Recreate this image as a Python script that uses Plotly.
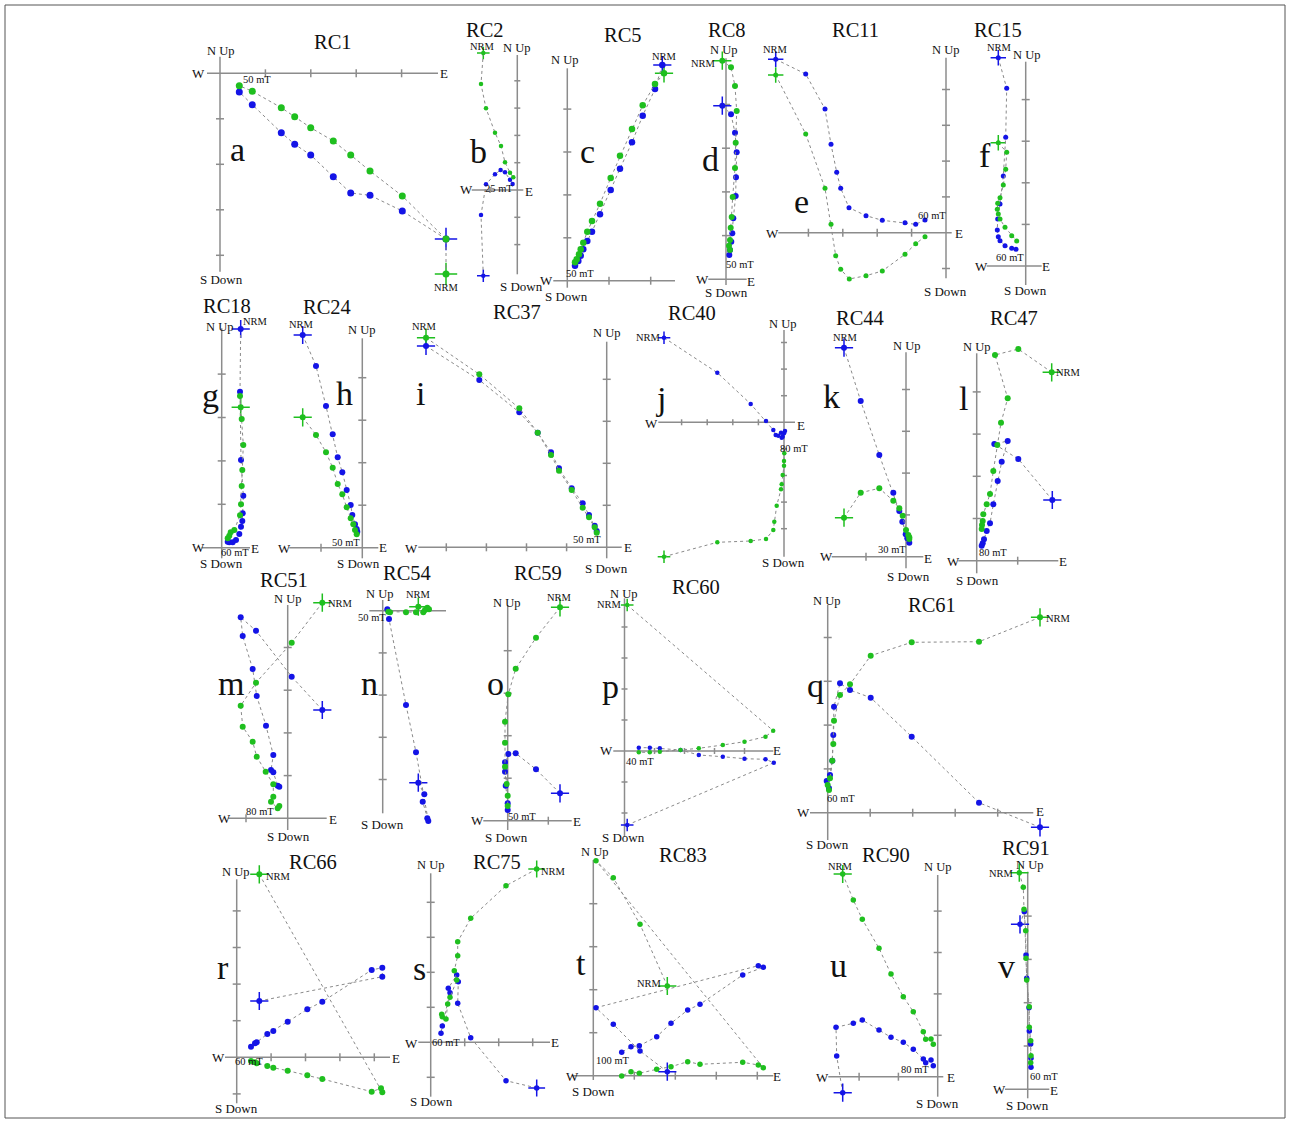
import plotly.graph_objects as go

W, H = 1290, 1122
FONT = "Liberation Serif"
GREEN = "#1fbf1f"
BLUE = "#1414e6"
AXIS = "#8c8c8c"
LINK = "#8a8a8a"

# ---------------- data (relative magnetisation components, arbitrary units) ----------------
# (East component, North-or-Up component); first point = NRM
RC1_HORIZ = [(226,-200.7),(226,-165.7),(182.3,-122.7),(150,-97.7),(130.7,-81.7),(113.3,-67.7),(90.7,-54.4),(74.7,-43.4),(61.3,-34.4),(32.3,-18),(19.3,-12.4)]
RC1_VERT = [(226,-165.7),(182.3,-137.7),(150,-122),(130.7,-119.7),(113.3,-103.4),(90.7,-81.7),(74.7,-71),(61.3,-59.4),(32.3,-31.4),(19.3,-18.7)]
RC2_HORIZ = [(-34,137),(-36.3,106),(-31.3,81.7),(-22.3,57.3),(-16.3,44),(-12.3,27.7),(-7.3,17.3),(-4,12.7)]
RC2_VERT = [(-34,-85.7),(-36.3,-25),(-31.3,5.7),(-22.3,15.7),(-16.7,20),(-12.3,17.7),(-7.3,10.3),(-4.7,6)]
RC5_HORIZ = [(96.7,207.4),(87.7,196.7),(75.4,175.4),(64.7,151.7),(52.7,125),(43.4,102.7),(32.7,77),(24.7,59.7),(20,49),(16,38),(13.4,31.4),(11.7,26.4),(9.4,21.4),(7.7,18.4)]
RC5_VERT = [(95,215.7),(87.7,191.7),(75.4,165),(64.7,138.4),(52.7,112),(43.4,90.7),(32.7,66.4),(24.7,49),(20,39.7),(16,31.4),(13.4,25),(11,19.7),(7.7,15)]
RC8_HORIZ = [(-3.7,218.6),(5,212),(9,193.3),(10.7,168.3),(9.7,136.6),(9,111.3),(6.7,82.3),(5.7,62.3),(4.7,51.6),(4,39.3),(3,33.6),(4,29.3)]
RC8_VERT = [(-3.7,173.6),(5,165),(9,146.6),(10.7,127),(10,102),(9.7,83.3),(7.3,61),(6.3,46),(5.3,37.6),(4,29.3),(3.3,24.3)]
RC11_HORIZ = [(-170.3,157.7),(-140.3,98.7),(-121,44.4),(-115,8.4),(-110.3,-23),(-105.3,-36.6),(-96.7,-46.3),(-80,-43),(-63.7,-38.3),(-41,-21.6),(-30.3,-11),(-21,-4)]
RC11_VERT = [(-170.3,173.4),(-140.3,158.7),(-121,123.7),(-115,88.4),(-109.3,60.4),(-105.3,44.4),(-97,25),(-80,17),(-63.7,12.4),(-41,10),(-30.3,8.4),(-21,12.7)]
RC15_HORIZ = [(-27.4,123.3),(-19,113.7),(-20,96.7),(-22.4,81),(-25.7,68.3),(-28,62.7),(-28.4,56.7),(-27.4,52),(-25.7,47),(-20.7,38.7),(-14,30.3),(-9,25)]
RC15_VERT = [(-27.4,208.3),(-19,177.7),(-20,128.7),(-22.4,90),(-25.7,62),(-28,47),(-28.4,36),(-27.4,29.3),(-25.7,25.3),(-20.7,20.3),(-14,17.7),(-9.7,16.7)]
RC18_HORIZ = [(19,140.4),(18.3,151.7),(20,128.7),(21.6,102.7),(20.6,77.7),(20,61.7),(19.3,43.4),(18.3,32.4),(12.6,17.7),(9,15.4),(7.6,12),(6,9.4)]
RC18_VERT = [(19,218.7),(18.3,156),(19.3,87.7),(21.6,52),(21,34.4),(20.6,26.7),(19.3,21),(17.6,13.7),(14.3,7.7),(11,5.4),(7.6,5.4),(6,6)]
RC24_HORIZ = [(-59.6,130.4),(-46.3,112.7),(-36.3,95.4),(-29.6,80),(-24.6,63.7),(-20,53.4),(-15.6,40.4),(-11.6,29.4),(-9,23.4),(-7.3,17.7),(-5.6,13.4)]
RC24_VERT = [(-59.6,212.7),(-46.3,181.7),(-36.3,141.7),(-29.6,113.4),(-24.6,90.4),(-20,75.4),(-15.6,57.7),(-11.6,42.7),(-10,32.7),(-7.3,23.4),(-5.6,18.7),(-5,16)]
RC37_HORIZ = [(-180.7,209.6),(-127.4,173),(-87.4,139),(-69,114.6),(-55.7,92.3),(-47.7,76.6),(-35,57.3),(-24,39.6),(-17.7,30),(-12,20),(-10,14.6)]
RC37_VERT = [(-180.7,201.3),(-127.4,167.3),(-87.4,135),(-69,114.6),(-55.7,95),(-47.7,79),(-35,59),(-24,44),(-17.7,32.3),(-12,21.6),(-10,16.3)]
RC40_HORIZ = [(-120,-134.4),(-66.7,-120),(-33.3,-118.7),(-18,-116.7),(-10.7,-107.7),(-9.7,-99.4),(-7.3,-83.4),(-3,-67),(-2.3,-62),(-1.3,-52.7),(0,-43.4),(0,-38.7),(0.3,-31)]
RC40_VERT = [(-120,84.6),(-66.7,49.6),(-33.3,18.3),(-18,1.3),(-10.7,-7.7),(-8.3,-12.7),(-5.7,-13.4),(-3,-10.4),(-1.3,-14.4),(0,-11),(1,-8.7),(-2.3,-15.4)]
RC44_HORIZ = [(-62,39),(-45.3,64),(-26.7,68.4),(-12.7,56),(-6.7,48.4),(-3.3,41),(0,26.7),(2.3,21.7),(3.3,19.4),(3.3,17.7)]
RC44_VERT = [(-62,209),(-45.3,155.7),(-26.7,101.7),(-12.7,64),(-6.7,45.7),(-3.7,35),(-0.3,22.4),(1.3,18.4),(3.3,14)]
RC47_HORIZ = [(75,188.4),(41.6,211.7),(18.3,205.7),(31,162.4),(24.3,138),(20.6,115.7),(16.6,89.7),(13.3,66.7),(10,56.4),(6.6,46.4),(6,39.7),(5.3,35.7),(5,31.7)]
RC47_VERT = [(75.6,60.7),(41.6,101.7),(17.6,116.7),(31,119.7),(25,99),(21,79.7),(16.6,56.4),(13.3,37.4),(10,29.7),(7.3,21.4),(6,17.4),(5,15)]
RC51_HORIZ = [(34.6,215.6),(4,175.6),(-31.7,135.6),(-47,112.6),(-45,91.6),(-35,76.6),(-31,61.6),(-22,46.6),(-14.4,34),(-14.4,21.6),(-16.7,16.6),(-10,10),(-8.4,12.3)]
RC51_VERT = [(34.6,108.3),(4,141.6),(-31.7,187.6),(-47,201),(-45,182.3),(-35,149.3),(-31,122.3),(-21.7,92.6),(-14.4,63.3),(-16.7,48.3),(-14.4,46),(-10,32.6),(-8.4,31.6)]
RC54_HORIZ = [(35.6,4),(44.6,3),(46.3,1.4),(42.3,0.7),(40.6,-1.6),(33.3,-1.6),(23.3,-1.6),(7.3,-1.6),(5.6,-1)]
RC54_VERT = [(35.6,-172),(41.6,-183.6),(40,-191),(44.6,-207.6),(45.6,-210.3),(33.3,-141.6),(23.3,-94.3),(6.3,-8.3),(4.6,1.4)]
RC59_HORIZ = [(52.3,213.4),(28.3,183),(8,152),(0.6,126.4),(-2.7,99),(-2.7,78),(-2.7,54),(-1,36.7),(0,25),(0,14.7)]
RC59_VERT = [(52.3,27.4),(28.3,51.4),(8,67.4),(0.6,66.7),(-2.7,58.4),(-2.7,49),(-2,35),(0,17.4),(0,10.7)]
RC60_HORIZ = [(2.7,146),(148.7,20.3),(141,14.3),(120,9.3),(98.3,6),(74.3,2.7),(56,1),(35.3,-0.7),(25.3,-1.3),(14.3,-1.3)]
RC60_VERT = [(2.7,-74),(149.3,-11.7),(141,-8.3),(120,-7.7),(98.3,-5.7),(74.3,-4),(56,1),(35.3,2.7),(25.3,3.3),(14.3,3.3)]
RC61_HORIZ = [(212.3,195.4),(151.3,171),(84,170.4),(43,157),(22.3,128.4),(12.3,117.7),(6.3,92),(5.6,68.7),(4.6,52),(2.3,34.4),(0,27.7),(1.3,22.7)]
RC61_VERT = [(212.3,-14.6),(151.3,10),(84,76),(43,115),(22.3,122.7),(12.3,129.4),(6.3,106),(5.6,77.7),(4.6,52),(2.3,37.7),(-1,31.7),(1.3,24.4)]
RC66_HORIZ = [(22.6,183),(145.6,-35),(144.3,-31),(135,-34.4),(85.6,-21.7),(70.6,-18),(51,-13.4),(36.6,-10.4),(30.6,-8.7),(20,-6),(18.3,-5),(14.3,-3.7)]
RC66_VERT = [(22.6,56.3),(145.6,80.6),(145.6,89.6),(135,87.3),(85.6,55.6),(70.6,48),(51,35.6),(36.6,26.3),(30.6,23.3),(20,15),(18.3,14),(14.3,10.6)]
RC75_HORIZ = [(106,173.3),(75.3,156.6),(40,124),(27,100.6),(27,86.6),(23.6,71.6),(26,62.3),(19.3,45),(17,38.3),(15.3,23.3),(11.6,25.6),(11,28)]
RC75_VERT = [(106,-45.7),(75.3,-38.4),(40,4.6),(27,39),(27.6,60.6),(26,67.3),(17.6,54),(19.3,49.6),(11.6,16.3),(10.3,9)]
RC83_HORIZ = [(74,89.7),(46.7,151.4),(20,198),(2.7,215),(170,8),(165,10.7),(149.4,13.4),(106.7,11.4),(94.4,14),(77.7,9),(63.4,6.4),(46,2.4),(37.7,4),(28.4,-0.3)]
RC83_VERT = [(74,4),(46.7,24.7),(20,51.4),(2.7,68),(165,110),(170,108.4),(149.4,100.7),(106.7,71.4),(94.4,65.7),(77.7,52.4),(63.4,39),(46,30),(37.7,29),(28.4,23.4)]
RC90_HORIZ = [(-95,202.7),(-84.4,176.7),(-75.4,157.4),(-58.7,128.4),(-46.7,102.7),(-34.4,80),(-24.4,65),(-14.4,45),(-12,37.4),(-6.7,37.7),(-4.4,32.4)]
RC90_VERT = [(-95,-16),(-101,20.7),(-101.7,49.4),(-84.4,53.4),(-75.4,56.7),(-58.7,46.7),(-46.7,39.4),(-34.4,34.4),(-24.4,27.4),(-14.4,17.7),(-12,14),(-6.7,16.7),(-4.4,11)]
RC91_HORIZ = [(-8.4,216.6),(-4.4,202),(-3.7,180),(-2,158.6),(-1.7,131),(-1,109.3),(1.6,82.6),(1.6,62),(3,48.6),(3.3,33.6),(3,26.6)]
RC91_VERT = [(-7.7,165),(-3.4,177.6),(-1.7,134.3),(-1,111),(1.3,81.6),(1.6,58.3),(3,45.3),(3.3,31),(3.3,22)]

SAMPLES = ["RC1","RC2","RC5","RC8","RC11","RC15","RC18","RC24","RC37","RC40","RC44",
           "RC47","RC51","RC54","RC59","RC60","RC61","RC66","RC75","RC83","RC90","RC91"]
LETTERS = list("abcdefghijklmnopqrstuv")
STEP_LABELS = ["50 mT","25 mT","50 mT","50 mT","60 mT","60 mT","60 mT","50 mT","50 mT","80 mT","30 mT",
               "80 mT","80 mT","50 mT","50 mT","40 mT","60 mT","60 mT","60 mT","100 mT","80 mT","60 mT"]
SERIES = {s: (globals()[s + "_HORIZ"], globals()[s + "_VERT"]) for s in SAMPLES}

# ---------------- layout geometry (page pixels) ----------------
# o: origin; hx/vy: axis extents; xs/ys: tick step; xi/yi: tick indices;
# label positions: w,e,n,s,t(title),l(letter),r(NRM),m(step label); ms marker size; cs cross size
GEOM = {
 "RC1": dict(o=(220,73.3), hx=(-13,218), vy=(-198.4,16.6), xs=45.4, xi=[1,2,3,4], ys=45.5, yi=[-1,-2,-3,-4],
             w=(198,73.3), e=(444,73.3), n=(220.7,50.7), s=(221,279), t=(333,42), l=(237,150), r=(446,287), m=(256.7,80), ms=7, cs=16, tl=4),
 "RC2": dict(o=(517.3,190), hx=(-45.6,6), vy=(-84.3,135), xs=27.3, xi=[-1], ys=27.3, yi=[4,3,2,1,-1,-2],
             w=(466,190), e=(529,191.7), n=(516.7,48.3), s=(521.7,286), t=(485,30), l=(478.3,151.7), r=(482.7,46.7), m=(499,188.3), ms=4.5, cs=9, tl=3),
 "RC5": dict(o=(567.3,280.7), hx=(-14,107.7), vy=(-7,212.4), xs=41.7, xi=[1,2], ys=42.9, yi=[1,2,3,4],
             w=(546,280.7), e=None, n=(564,60), s=(566.7,296), t=(622.7,35), l=(587.3,151.7), r=(664,56), m=(580,273.3), ms=6.5, cs=13, tl=4),
 "RC8": dict(o=(726,279.3), hx=(-17.7,20.7), vy=(-5.7,221), xs=40, xi=[], ys=43.7, yi=[1,2,3,4],
             w=(702.3,280), e=(751,281), n=(723.3,50), s=(726.7,292.3), t=(727.3,30), l=(710.7,160), r=(703.3,63.3), m=(739.7,264.3), ms=6, cs=13, tl=4),
 "RC11": dict(o=(946,232.7), hx=(-167.7,5.7), vy=(-45.6,175), xs=34.4, xi=[-1,-2,-3,-4], ys=35.8, yi=[1,2,3,4,-1],
             w=(772.3,233.3), e=(959.3,233.3), n=(945,50), s=(946,291.7), t=(855.7,30), l=(801.7,201.7), r=(775,50), m=(931.7,215), ms=5, cs=11, tl=4),
 "RC15": dict(o=(1025.7,266), hx=(-39,16), vy=(-19,204.3), xs=40, xi=[], ys=41.6, yi=[1,2,3,4],
             w=(981.7,266.7), e=(1046,266.7), n=(1026,55), s=(1025,290), t=(998.3,30), l=(985,155), r=(999.3,47.3), m=(1010.3,257.7), ms=5, cs=11, tl=4),
 "RC18": dict(o=(221.7,547.7), hx=(-20,28.3), vy=(-10.6,219.4), xs=40, xi=[], ys=43.4, yi=[1,2,3,4],
             w=(198.3,547.7), e=(255,548.3), n=(219.7,327.3), s=(221.7,563.3), t=(227.3,306.3), l=(210,395), r=(255,321.7), m=(235,552.3), ms=6, cs=13, tl=4),
 "RC24": dict(o=(362.3,547.7), hx=(-73,16), vy=(-10.6,209.4), xs=41.3, xi=[-1], ys=42.5, yi=[1,2,3,4],
             w=(284.7,548.3), e=(383.3,547.7), n=(361.7,330), s=(358.3,563.3), t=(326.7,307.3), l=(345,393.3), r=(301,324.3), m=(345.7,542.3), ms=6, cs=13, tl=4),
 "RC37": dict(o=(606.7,547.3), hx=(-188.4,15), vy=(-11,205.6), xs=40.1, xi=[-1,-2,-3,-4], ys=42, yi=[1,2,3,4],
             w=(411.7,548.3), e=(627.7,547.3), n=(606.7,333.3), s=(606.7,568.3), t=(516.7,311.7), l=(420.7,393.3), r=(425,326.7), m=(587.3,539.3), ms=6, cs=13, tl=4),
 "RC40": dict(o=(784,422.3), hx=(-125.7,11), vy=(-134.4,92.3), xs=25.6, xi=[-1,-2,-3,-4], ys=26.6, yi=[1,2,3,-1,-2,-3,-4],
             w=(651.7,423.3), e=(800.7,425), n=(782.7,324.3), s=(783.3,562.7), t=(691.7,313.3), l=(660.7,398.3), r=(648.3,337.3), m=(794,449), ms=4.5, cs=9, tl=3),
 "RC44": dict(o=(906,556.7), hx=(-74.3,17.3), vy=(-11.6,204.4), xs=40, xi=[-1], ys=41.8, yi=[1,2,3,4],
             w=(826,556.7), e=(928.3,558.3), n=(906,345.7), s=(908.3,576.7), t=(860,318.3), l=(831.7,396.7), r=(845,337.7), m=(892.3,549.3), ms=6, cs=13, tl=4),
 "RC47": dict(o=(976.7,560.7), hx=(-18.4,81.6), vy=(-12.6,207.4), xs=41, xi=[1], ys=42.2, yi=[1,2,3,4],
             w=(953.3,561.7), e=(1063.3,561.7), n=(976.7,346.7), s=(977.3,580), t=(1014,318.3), l=(963.3,398.3), r=(1068,372.3), m=(992.7,552.7), ms=6, cs=13, tl=4),
 "RC51": dict(o=(287.7,818.3), hx=(-59.4,39), vy=(-11.7,213.3), xs=41.7, xi=[-1], ys=42.7, yi=[1,2,3,4],
             w=(224,818.3), e=(332.7,819.3), n=(287.7,599.3), s=(288.3,836.7), t=(284,580), l=(230.7,683.3), r=(340,603.3), m=(259.7,811.7), ms=6, cs=13, tl=4),
 "RC54": dict(o=(382.7,610.7), hx=(-13.4,63.3), vy=(-202.6,10.7), xs=40, xi=[], ys=42.2, yi=[-1,-2,-3,-4],
             w=None, e=None, n=(379.7,594.3), s=(382.7,824.3), t=(406.7,573.3), l=(369.3,683.3), r=(418.3,594.3), m=(371.7,617.3), ms=6, cs=13, tl=4),
 "RC59": dict(o=(507.7,820.7), hx=(-24.4,64), vy=(-9.3,215.7), xs=40.6, xi=[1], ys=42.5, yi=[1,2,3,4],
             w=(477.7,820.7), e=(576.7,821.7), n=(506.7,602.7), s=(506.7,837.3), t=(538.3,573.3), l=(495,683.3), r=(559.3,597.3), m=(522.3,816), ms=6, cs=13, tl=4),
 "RC60": dict(o=(624.5,751), hx=(-11.2,148.8), vy=(-85.7,152.7), xs=30, xi=[1,2,3,4], ys=31, yi=[1,2,3,4,-1,-2],
             w=(606.7,750), e=(777.3,750), n=(623.3,594), s=(623.3,837.7), t=(696,586.7), l=(610.7,686.7), r=(609.3,604.3), m=(639.7,761), ms=4.5, cs=9, tl=3),
 "RC61": dict(o=(827.7,812.7), hx=(-17.7,205.6), vy=(-27.3,207.7), xs=42.5, xi=[1,2,3,4], ys=43.8, yi=[1,2,3,4],
             w=(803.3,812.7), e=(1040,811.7), n=(826.7,600.7), s=(827.3,844.3), t=(931.7,605), l=(815,685), r=(1058.3,618.3), m=(841.3,798.3), ms=6, cs=13, tl=4),
 "RC66": dict(o=(236.7,1057.3), hx=(-11.7,153.3), vy=(-46,178), xs=34.4, xi=[1,2,3,4], ys=36.6, yi=[1,2,3,4,-1],
             w=(218.3,1057.3), e=(395.7,1058.3), n=(235,872.3), s=(236,1108.3), t=(313.3,861.7), l=(223.3,967.7), r=(278,876.7), m=(249,1061.7), ms=6, cs=13, tl=4),
 "RC75": dict(o=(430.7,1042.3), hx=(-12.4,119.3), vy=(-54.4,169), xs=34, xi=[1,2,3], ys=35, yi=[1,2,3,4,-1],
             w=(411.7,1043.3), e=(555,1042.7), n=(430.7,865), s=(431.7,1101), t=(497.3,861.7), l=(419.3,968.3), r=(553.7,871.7), m=(445.7,1042.7), ms=5.5, cs=12, tl=4),
 "RC83": dict(o=(593.3,1075.7), hx=(-20,180), vy=(-4.3,215.7), xs=41, xi=[1,2,3,4], ys=43, yi=[1,2,3,4],
             w=(572.7,1076), e=(777.3,1076), n=(594,852.3), s=(593.3,1091.7), t=(682.7,855), l=(580.7,963.3), r=(649,983.3), m=(613.3,1060), ms=5.5, cs=13, tl=4),
 "RC90": dict(o=(937.7,1076.7), hx=(-109.4,5.6), vy=(-20,201.7), xs=39.3, xi=[-1,-2], ys=41.4, yi=[1,2,3,4],
             w=(822.7,1077.3), e=(950.7,1077.3), n=(937.7,866.7), s=(937.7,1103.3), t=(886,855), l=(838.3,965), r=(840.7,866.7), m=(915,1069.3), ms=5.5, cs=13, tl=4),
 "RC91": dict(o=(1027.7,1089.3), hx=(-22.7,21.6), vy=(-9,217.6), xs=40, xi=[], ys=43.3, yi=[1,2,3,4],
             w=(999.3,1089.3), e=(1054,1090), n=(1029,865), s=(1027.3,1105), t=(1026,847.5), l=(1006,966), r=(1001.3,873.3), m=(1044,1076), ms=5.5, cs=13, tl=4),
}

fig = go.Figure()
layout = dict(width=W, height=H, margin=dict(l=0, r=0, t=0, b=0), showlegend=False,
              paper_bgcolor="white", plot_bgcolor="rgba(0,0,0,0)")
annotations = []


def txt(pos, text, size):
    if pos is None:
        return
    annotations.append(dict(x=pos[0] / W, y=1 - pos[1] / H, xref="paper", yref="paper", text=text,
                            showarrow=False, xanchor="center", yanchor="middle",
                            font=dict(family=FONT, size=size, color="#111111")))


for i, name in enumerate(SAMPLES):
    g = GEOM[name]
    k = i + 1
    xa, ya = ("x", "y") if k == 1 else (f"x{k}", f"y{k}")
    sfx = "" if k == 1 else str(k)
    ox, oy = g["o"]
    layout["xaxis" + sfx] = dict(domain=[0, 1], range=[-ox, W - ox], visible=False, anchor=ya, fixedrange=True)
    layout["yaxis" + sfx] = dict(domain=[0, 1], range=[oy - H, oy], visible=False, anchor=xa, fixedrange=True)

    # axes cross with ticks
    tl = g["tl"]
    ax_x = [g["hx"][0], g["hx"][1], None, 0, 0, None]
    ax_y = [0, 0, None, g["vy"][0], g["vy"][1], None]
    for t in g["xi"]:
        ax_x += [t * g["xs"], t * g["xs"], None]
        ax_y += [-tl, tl, None]
    for t in g["yi"]:
        ax_x += [-tl, tl, None]
        ax_y += [t * g["ys"], t * g["ys"], None]
    fig.add_trace(go.Scatter(x=ax_x, y=ax_y, mode="lines", line=dict(color=AXIS, width=1.5),
                             xaxis=xa, yaxis=ya, hoverinfo="skip"))

    horiz, vert = SERIES[name]
    # NRM crosses
    fig.add_trace(go.Scatter(x=[vert[0][0], horiz[0][0]], y=[vert[0][1], horiz[0][1]], mode="markers",
                             marker=dict(symbol="cross-thin", size=g["cs"],
                                         line=dict(color=[BLUE, GREEN], width=1.5)),
                             xaxis=xa, yaxis=ya, hoverinfo="skip"))
    for pts, col in ((vert, BLUE), (horiz, GREEN)):
        fig.add_trace(go.Scatter(x=[p[0] for p in pts], y=[p[1] for p in pts], mode="lines+markers",
                                 line=dict(color=LINK, width=1, dash="dot"),
                                 marker=dict(color=col, size=g["ms"], line=dict(width=0)),
                                 xaxis=xa, yaxis=ya, hoverinfo="skip"))

    txt(g["w"], "W", 13)
    txt(g["e"], "E", 13)
    txt(g["n"], "N Up", 12.5)
    txt(g["s"], "S Down", 13)
    txt(g["t"], name, 20.5)
    txt(g["l"], LETTERS[i], 34)
    txt(g["r"], "NRM", 10.5)
    txt(g["m"], STEP_LABELS[i], 10.5)

layout["annotations"] = annotations
layout["shapes"] = [dict(type="rect", xref="paper", yref="paper", x0=5 / W, x1=1285 / W, y0=1 - 1118 / H, y1=1 - 5 / H,
                         line=dict(color="#555555", width=1), fillcolor="rgba(0,0,0,0)", layer="below")]
fig.update_layout(**layout)
fig.write_html("out.html", config={"displayModeBar": False, "staticPlot": True})
